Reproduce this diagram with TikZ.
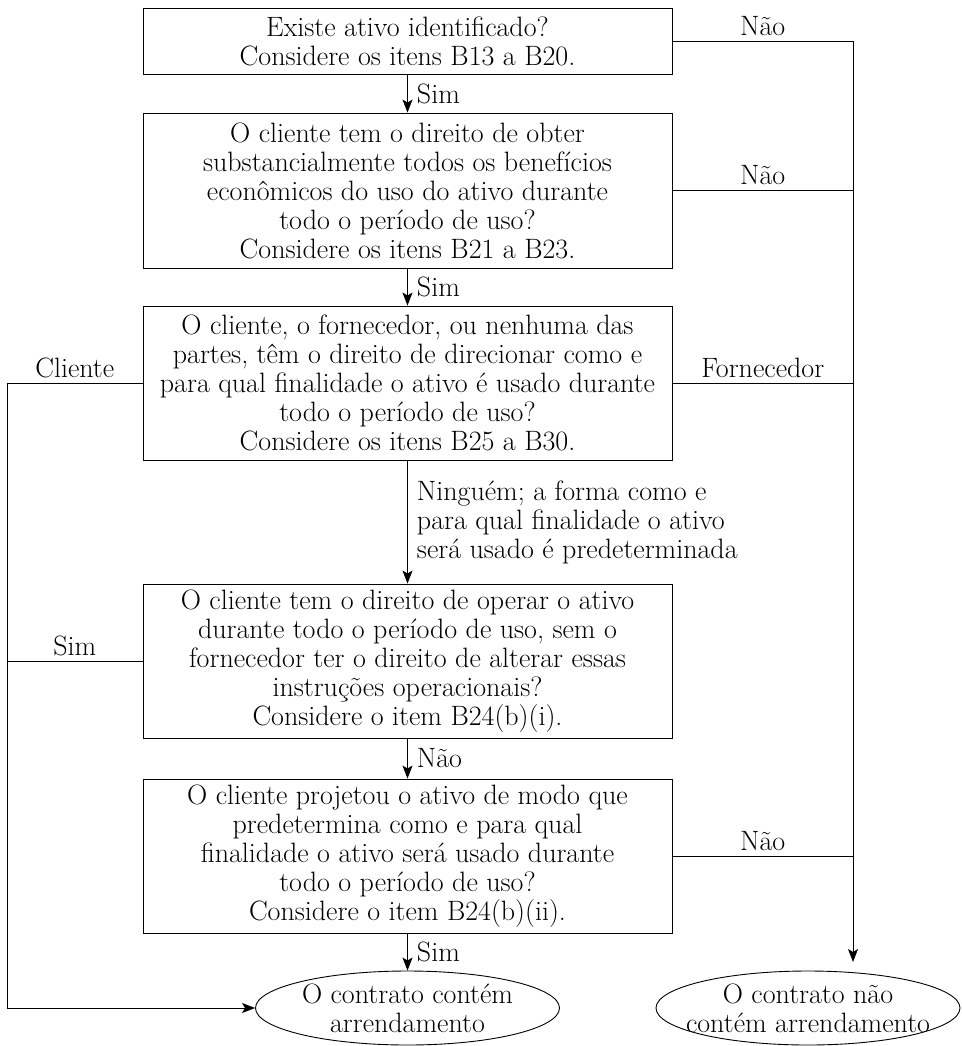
\documentclass[tikz,border=0pt]{standalone}
\usetikzlibrary{arrows.meta,shapes.geometric}
\begin{document}
\begin{tikzpicture}[x=1pt,y=-1pt,
  line width=0.9pt,
  txt/.style={font=\fontsize{28}{29}\selectfont},
  qbox/.style={draw, txt, align=center, minimum width=529pt, inner sep=0pt},
  oval/.style={draw, ellipse, minimum width=304pt, minimum height=74pt, inner sep=0pt},
  arr/.style={-{Stealth[length=13pt,width=10pt,inset=3pt]}},
  lbl/.style={txt, inner sep=0pt}]
\useasboundingbox (0,0) rectangle (961,1046);
% boxes
\node[qbox, minimum height=66pt] (b1) at (407.5,41) {Existe ativo identificado?\\Considere os itens B13 a B20.};
\node[qbox, minimum height=155pt] (b2) at (407.5,190.5) {O cliente tem o direito de obter\\substancialmente todos os benefícios\\econômicos do uso do ativo durante\\todo o período de uso?\\Considere os itens B21 a B23.};
\node[qbox, minimum height=154pt] (b3) at (407.5,383) {O cliente, o fornecedor, ou nenhuma das\\partes, têm o direito de direcionar como e\\para qual finalidade o ativo é usado durante\\todo o período de uso?\\Considere os itens B25 a B30.};
\node[qbox, minimum height=154pt] (b4) at (407.5,661) {O cliente tem o direito de operar o ativo\\durante todo o período de uso, sem o\\fornecedor ter o direito de alterar essas\\instruções operacionais?\\Considere o item B24(b)(i).};
\node[qbox, minimum height=154pt] (b5) at (407.5,856) {O cliente projetou o ativo de modo que\\predetermina como e para qual\\finalidade o ativo será usado durante\\todo o período de uso?\\Considere o item B24(b)(ii).};
% ovals
\node[oval] (e1) at (407.5,1008) {};
\node[txt, align=center] (t1) at (e1.center) {O contrato contém\\arrendamento};
\node[oval] (e2) at (808,1008) {};
\node[txt, align=center] (t2) at (e2.center) {O contrato não\\contém arrendamento};
% junction coordinates
\coordinate (r1) at (853,41);
\coordinate (r2) at (853,190.5);
\coordinate (r3) at (853,383);
\coordinate (r5) at (853,856);
\coordinate (rEnd) at (853,962);
\coordinate (l3) at (7,383);
\coordinate (l4) at (7,661);
\coordinate (lEnd) at (7,1008);
% vertical main arrows
\draw[arr] (b1.south) -- (b2.north) node[midway, lbl, anchor=west, xshift=9pt] {Sim};
\draw[arr] (b2.south) -- (b3.north) node[midway, lbl, anchor=west, xshift=9pt] {Sim};
\draw[arr] (b3.south) -- (b4.north) node[midway, lbl, anchor=west, xshift=9pt, align=left] {Ninguém; a forma como e\\para qual finalidade o ativo\\será usado é predeterminada};
\draw[arr] (b4.south) -- (b5.north) node[midway, lbl, anchor=west, xshift=9pt] {Não};
\draw[arr] (b5.south) -- (e1.north) node[midway, lbl, anchor=west, xshift=9pt] {Sim};
% right side
\draw (b1.east) -- (r1) node[midway, lbl, anchor=south, yshift=5pt] {Não};
\draw (b2.east) -- (r2) node[midway, lbl, anchor=south, yshift=5pt] {Não};
\draw (b3.east) -- (r3) node[midway, lbl, anchor=south, yshift=5pt] {Fornecedor};
\draw (b5.east) -- (r5) node[midway, lbl, anchor=south, yshift=5pt] {Não};
\draw[arr] (r1) -- (rEnd);
% left side
\draw (b3.west) -- (l3) node[midway, lbl, anchor=south, yshift=5pt] {Cliente};
\draw (b4.west) -- (l4) node[midway, lbl, anchor=south, yshift=5pt] {Sim};
\draw[arr] (l3) -- (lEnd) -- (e1.west);
\end{tikzpicture}
\end{document}
